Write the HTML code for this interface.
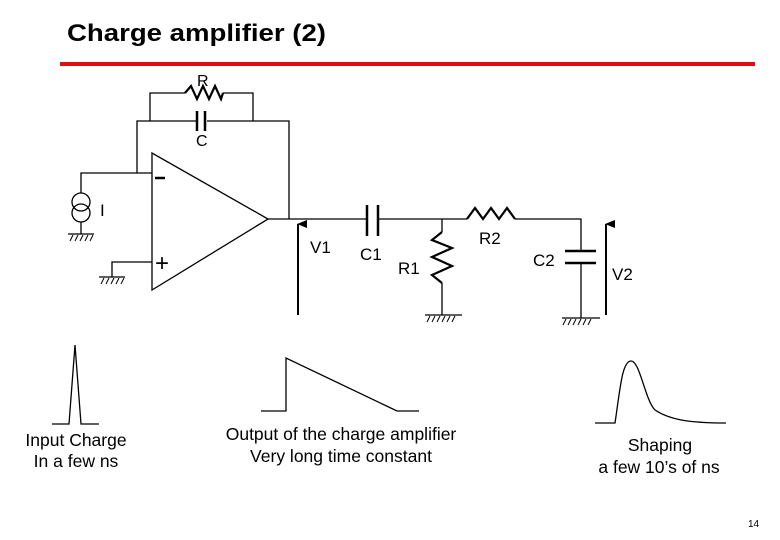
<!DOCTYPE html>
<html><head><style>body{margin:0;background:#fff}svg{display:block}text{font-family:"Liberation Sans",Arial,sans-serif;fill:#000}</style></head><body>
<svg width="780" height="540" viewBox="0 0 780 540" xmlns="http://www.w3.org/2000/svg">
<defs><marker id="ar" markerWidth="8" markerHeight="10" refX="4" refY="1" orient="auto" markerUnits="userSpaceOnUse"><path d="M0,10 L4,0 L8,10 Z" fill="#000"/></marker></defs>
<text x="67" y="41" font-size="24" font-weight="bold" textLength="259" lengthAdjust="spacingAndGlyphs">Charge amplifier (2)</text>
<line x1="60" y1="64" x2="755" y2="64" stroke="#e01010" stroke-width="4"/>
<g stroke="#000" stroke-width="1.3" fill="none">
<polyline points="150,121 150,93 185,93"/>
<polyline points="223,93 253,93 253,121"/>
<polyline points="185,93 191,86 197,99 203,86 209,99 215,86 221,99 223,93" stroke-width="2.2"/>
<polyline points="137,173 137,121 197,121"/>
<polyline points="207,121 289,121 289,219"/>
<line x1="197" y1="111" x2="197" y2="131" stroke-width="2.5"/>
<line x1="205" y1="111" x2="205" y2="131" stroke-width="2.5"/>
<polygon points="152,153 152,290 268,219"/>
<polyline points="81,193 81,173 152,173"/>
<circle cx="81" cy="202" r="9"/><circle cx="81" cy="213" r="9"/>
<line x1="81" y1="222" x2="81" y2="234"/>
<line x1="68" y1="234" x2="94" y2="234"/>
<polyline points="152,262 112,262 112,277"/>
<line x1="99" y1="277" x2="125" y2="277"/>
<line x1="268" y1="219" x2="367" y2="219"/>
<line x1="367" y1="205" x2="367" y2="236" stroke-width="2.5"/>
<line x1="378" y1="205" x2="378" y2="236" stroke-width="2.5"/>
<polyline points="378,219 467,219"/>
<polyline points="467,219 475,208 483,219 491,208 499,219 507,208 515,219" stroke-width="2.2"/>
<polyline points="515,219 581,219 581,251"/>
<line x1="565" y1="251" x2="596" y2="251" stroke-width="2.5"/>
<line x1="565" y1="263" x2="596" y2="263" stroke-width="2.5"/>
<line x1="581" y1="263" x2="581" y2="318"/>
<line x1="562" y1="318" x2="600" y2="318"/>
<polyline points="442,219 442,232"/>
<polyline points="442,232 432,240 452,248 432,257 452,266 432,275 442,283" stroke-width="2.2"/>
<polyline points="442,283 442,315"/>
<line x1="425" y1="315" x2="462" y2="315"/>
<polyline points="52,424 69,424 75,345 81,424 99,424"/>
<polyline points="261,411 286,411 286,358 397,411 419,411"/>
<path d="M595,423 L615,423 C620,390 622,361 631,361 C640,361 645,400 655,410 C670,420 690,423 726,423"/>
</g>
<g stroke="#000" stroke-width="1">
<path d="M70,241l3,-6M75,241l3,-6M80,241l3,-6M85,241l3,-6M90,241l3,-6"/>
<path d="M101,284l3,-6M106,284l3,-6M111,284l3,-6M116,284l3,-6M121,284l3,-6"/>
<path d="M427,322l3,-6M432,322l3,-6M437,322l3,-6M442,322l3,-6M447,322l3,-6M452,322l3,-6"/>
<path d="M563,325l3,-6M568,325l3,-6M573,325l3,-6M578,325l3,-6M583,325l3,-6M588,325l3,-6"/>
</g>
<line x1="298" y1="315" x2="298" y2="224" stroke="#000" stroke-width="2" marker-end="url(#ar)"/>
<line x1="606" y1="315" x2="606" y2="224" stroke="#000" stroke-width="2" marker-end="url(#ar)"/>
<line x1="155" y1="178" x2="165" y2="178" stroke="#000" stroke-width="2.5"/>
<text x="155" y="271" font-size="24">+</text>
<text x="197" y="86" font-size="16">R</text>
<text x="196" y="146" font-size="16">C</text>
<text x="100" y="216" font-size="17">I</text>
<text x="310" y="253" font-size="17">V1</text>
<text x="360" y="260" font-size="17">C1</text>
<text x="398" y="274" font-size="17">R1</text>
<text x="479" y="244" font-size="17">R2</text>
<text x="533" y="266" font-size="17">C2</text>
<text x="612" y="280" font-size="17">V2</text>
<g font-size="17.5" text-anchor="middle">
<text x="76" y="446">Input Charge</text>
<text x="76" y="467">In a few ns</text>
<text x="341" y="440">Output of the charge amplifier</text>
<text x="341" y="462">Very long time constant</text>
<text x="660" y="451">Shaping</text>
<text x="659" y="473">a few 10’s of ns</text>
</g>
<text x="748" y="527" font-size="10">14</text>
</svg>
</body></html>
